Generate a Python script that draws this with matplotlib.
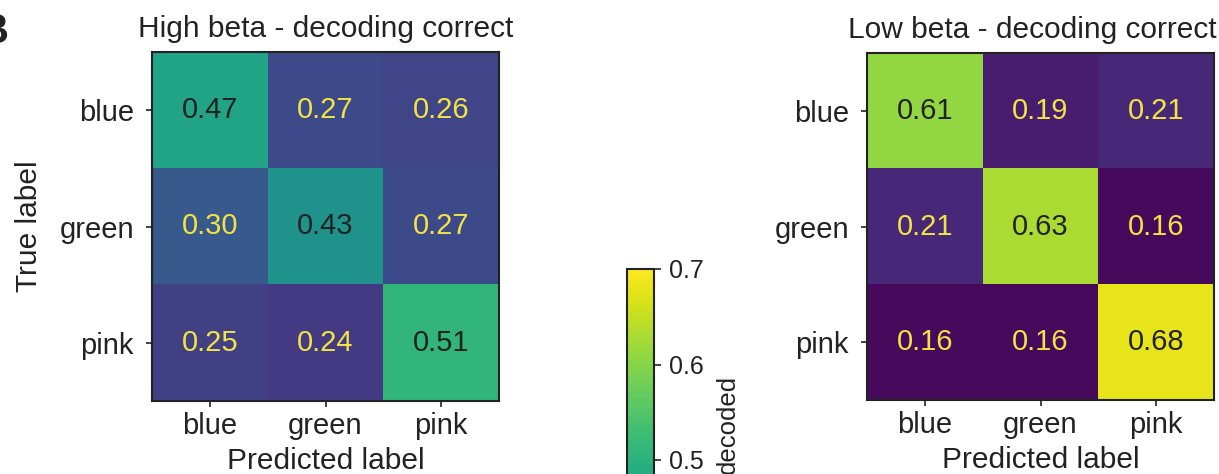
import matplotlib
matplotlib.use("Agg")
import matplotlib.pyplot as plt
import numpy as np

plt.rcParams["font.family"] = ["Liberation Sans", "DejaVu Sans"]

classes = ["blue", "green", "pink"]
high_beta = [[0.47, 0.27, 0.26],
             [0.30, 0.43, 0.27],
             [0.25, 0.24, 0.51]]
low_beta = [[0.61, 0.19, 0.21],
            [0.21, 0.63, 0.16],
            [0.16, 0.16, 0.68]]
titles = ["High beta - decoding correct", "Low beta - decoding correct"]
cbar_ticks = [0.5, 0.6, 0.7]
vmin, vmax = 0.145, 0.7

W, H = 1219, 474
fig = plt.figure(figsize=(W / 100, H / 100), dpi=100)


def px_axes(x0, y0, x1, y1):
    # pixel box (top-left origin) -> figure fraction
    return fig.add_axes([x0 / W, (H - y1) / H, (x1 - x0) / W, (y1 - y0) / H])


ax_left = px_axes(152, 52, 499, 401)
ax_right = px_axes(867, 53, 1214, 400)
text_dark = "#222222"
cmap = plt.get_cmap("viridis")

im = None
for ax, mat, title in zip([ax_left, ax_right], [high_beta, low_beta], titles):
    mat = np.array(mat)
    im = ax.imshow(mat, cmap=cmap, vmin=vmin, vmax=vmax, aspect="auto")
    thresh = (vmin + vmax) / 2
    for i in range(3):
        for j in range(3):
            color = "#f2e442" if mat[i, j] < thresh else text_dark
            ax.text(j, i, f"{mat[i, j]:.2f}", ha="center", va="center",
                    fontsize=21, color=color)
    ax.set_xticks(range(3))
    ax.set_yticks(range(3))
    ax.set_xticklabels(classes, fontsize=21, color=text_dark)
    ax.set_yticklabels(classes, fontsize=21, color=text_dark)
    ax.tick_params(length=4, width=1.2, color=text_dark)
    ax.tick_params(axis="x", pad=4)
    ax.tick_params(axis="y", pad=9)
    ax.set_xlabel("Predicted label", fontsize=21.5, color=text_dark, labelpad=5)
    ax.set_title(title, fontsize=21.5, color=text_dark, pad=11)
    for s in ax.spines.values():
        s.set_linewidth(1.5)
        s.set_color(text_dark)

ax_right.title.set_x(0.476)
ax_left.set_ylabel("True label", fontsize=21.5, color=text_dark, labelpad=12)

# colorbar runs past the bottom edge of the (cropped) figure
px_per_unit = 955
cb_top = 269
cb_bottom = cb_top + (vmax - vmin) * px_per_unit
cax = px_axes(627, cb_top, 654, cb_bottom)
cb = fig.colorbar(im, cax=cax)
cb.set_ticks(cbar_ticks)
cb.ax.set_yticklabels([f"{t:.1f}" for t in cbar_ticks], fontsize=18, color=text_dark)
cb.ax.tick_params(length=5, width=1.2, color=text_dark, pad=6)
cb.outline.set_linewidth(1.5)
cb.outline.set_edgecolor(text_dark)
fig.text(728 / W, (H - 375) / H, "decoded", rotation=90, ha="center", va="top",
         fontsize=18.5, color=text_dark)

fig.text(8 / W, (H - 43) / H, "B", fontsize=30, fontweight="bold", ha="right",
         va="baseline", color=text_dark)

fig.savefig("out.png", dpi=100)
plt.close(fig)
